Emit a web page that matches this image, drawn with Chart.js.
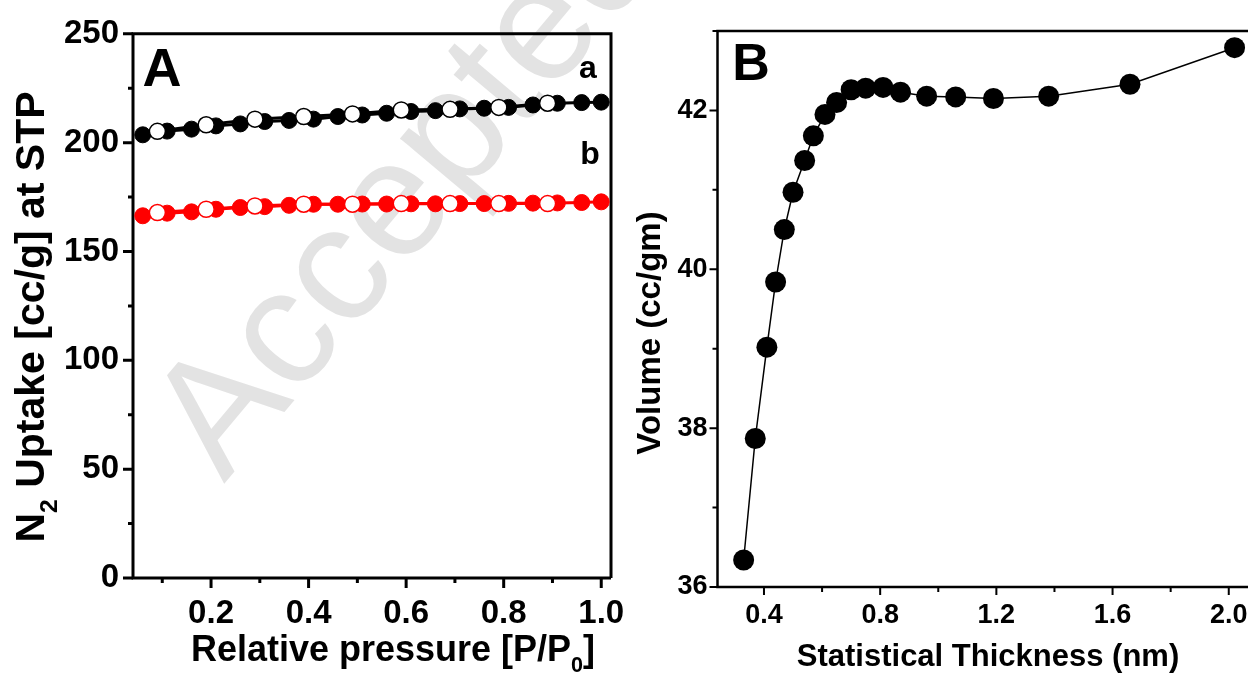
<!DOCTYPE html>
<html>
<head>
<meta charset="utf-8">
<script src="https://cdn.jsdelivr.net/npm/chart.js@4.4.0/dist/chart.umd.min.js"></script>
<style>
  html, body { margin: 0; padding: 0; background: #fff; overflow: hidden; }
  #boxA { position: absolute; left: 0; top: 0; }
  #boxB { position: absolute; left: 620px; top: 0; }
</style>
</head>
<body>
<canvas id="boxA" width="700" height="675"></canvas>
<canvas id="boxB" width="640" height="675"></canvas>
<script>
// ---- panel A : N2 isotherms (filled = adsorption, open = desorption)
const relPressureAds = [0.06, 0.11, 0.16, 0.21, 0.26, 0.31, 0.36, 0.41, 0.46, 0.51, 0.56, 0.61, 0.66, 0.71, 0.76, 0.81, 0.86, 0.91, 0.96, 1.00];
const uptakeAdsA = [203.6, 205.3, 206.2, 207.7, 208.6, 209.7, 210.2, 210.8, 212.0, 212.7, 213.5, 214.3, 214.7, 215.5, 215.8, 216.2, 217.3, 218.1, 218.4, 218.6];
const uptakeAdsB = [166.4, 167.6, 168.2, 169.4, 170.2, 170.6, 171.2, 171.7, 171.7, 171.8, 171.8, 171.9, 171.9, 172.0, 172.0, 172.1, 172.2, 172.3, 172.5, 172.8];
const relPressureDes = [0.09, 0.19, 0.29, 0.39, 0.49, 0.59, 0.69, 0.79, 0.89];
const uptakeDesA = [205.2, 208.2, 210.8, 212.0, 213.2, 215.0, 215.3, 216.2, 218.1];
const uptakeDesB = [167.9, 169.4, 170.9, 171.7, 171.7, 172.0, 172.0, 172.0, 172.0];

// ---- panel B : t-plot
const thickness = [0.33, 0.37, 0.41, 0.44, 0.47, 0.50, 0.54, 0.57, 0.61, 0.65, 0.70, 0.75, 0.81, 0.87, 0.96, 1.06, 1.19, 1.38, 1.66, 2.02];
const volume = [36.34, 37.87, 39.02, 39.84, 40.50, 40.97, 41.37, 41.68, 41.95, 42.10, 42.26, 42.28, 42.29, 42.23, 42.18, 42.17, 42.15, 42.18, 42.33, 42.79];

// ticks
const xTicksA = [0.2, 0.4, 0.6, 0.8, 1.0];
const xMinorA = [0.1, 0.3, 0.5, 0.7, 0.9];
const yTicksA = [0, 50, 100, 150, 200, 250];
const yMinorA = [25, 75, 125, 175, 225];
const xTicksB = [0.4, 0.8, 1.2, 1.6, 2.0];
const xMinorB = [0.6, 1.0, 1.4, 1.8];
const yTicksB = [36, 38, 40, 42];
const yMinorB = [37, 39, 41, 43];

const FONT = '"Liberation Sans", Arial, sans-serif';

function pts(xs, ys) {
  return xs.map((x, i) => ({ x: x, y: ys[i] }));
}

// draws text made of parts, some of them subscripts, centred on (x, y)
function drawParts(ctx, parts, x, y, size, angle) {
  ctx.save();
  ctx.translate(x, y);
  ctx.rotate(angle * Math.PI / 180);
  ctx.fillStyle = '#000';
  ctx.textBaseline = 'middle';
  ctx.textAlign = 'left';
  let w = 0;
  parts.forEach(p => {
    ctx.font = 'bold ' + (p.sub ? size * 0.6 : size) + 'px ' + FONT;
    w += ctx.measureText(p.t).width;
  });
  let cx = -w / 2;
  parts.forEach(p => {
    ctx.font = 'bold ' + (p.sub ? size * 0.6 : size) + 'px ' + FONT;
    ctx.fillText(p.t, cx, p.sub ? size * 0.42 : 0);
    cx += ctx.measureText(p.t).width;
  });
  ctx.restore();
}

const decor = {
  id: 'decor',
  beforeDraw(chart, args, o) {
    if (!o.watermark) return;
    const ctx = chart.ctx;
    const w = o.watermark;
    ctx.save();
    ctx.translate(w.x, w.y);
    ctx.rotate(w.angle * Math.PI / 180);
    ctx.font = w.size + 'px ' + FONT;
    ctx.fillStyle = '#e3e3e3';
    ctx.fillText('Accepted', 0, 0);
    ctx.restore();
  },
  beforeDatasetsDraw(chart, args, o) {
    const ctx = chart.ctx;
    const a = chart.chartArea;
    const sx = chart.scales.x, sy = chart.scales.y;
    ctx.save();
    ctx.strokeStyle = '#000';
    ctx.lineWidth = o.frameWidth;
    ctx.beginPath();
    ctx.moveTo(a.right, a.bottom);
    ctx.lineTo(a.left, a.bottom);
    ctx.lineTo(a.left, a.top);
    ctx.lineTo(a.right, a.top);
    if (o.rightEdge) ctx.lineTo(a.right, a.bottom);
    ctx.stroke();
    ctx.lineWidth = o.tickWidth;
    ctx.beginPath();
    const tick = (scale, vals, len) => vals.forEach(v => {
      const p = scale.getPixelForValue(v);
      if (scale.isHorizontal()) { ctx.moveTo(p, a.bottom); ctx.lineTo(p, a.bottom + len); }
      else { ctx.moveTo(a.left, p); ctx.lineTo(a.left - len, p); }
    });
    tick(sx, o.xMajor, o.major); tick(sx, o.xMinor, o.minor);
    tick(sy, o.yMajor, o.major); tick(sy, o.yMinor, o.minor);
    ctx.stroke();
    ctx.restore();
  },
  afterDraw(chart, args, o) {
    const ctx = chart.ctx;
    o.texts.forEach(t => drawParts(ctx, t.parts, t.x, t.y, t.size, t.angle || 0));
  }
};

function fixedTicks(list) {
  return scale => { scale.ticks = list.map(v => ({ value: v })); };
}

function axis(min, max, list, fmt, size, pad, fit) {
  return {
    type: 'linear', min: min, max: max,
    afterBuildTicks: fixedTicks(list),
    afterFit: fit,
    grid: { display: false, drawTicks: false },
    border: { display: false },
    ticks: { color: '#000', padding: pad, font: { family: FONT, size: size, weight: 'bold' }, callback: fmt }
  };
}

const commonOpts = {
  responsive: false,
  animation: false,
  devicePixelRatio: 1,
  events: []
};

// ---------- chart A
new Chart(document.getElementById('boxA'), {
  type: 'scatter',
  data: {
    datasets: [
      { data: pts(relPressureDes, uptakeDesA), showLine: true, borderColor: '#000', borderWidth: 3,
        pointRadius: 8, pointBackgroundColor: '#fff', pointBorderColor: '#000', pointBorderWidth: 1.5 },
      { data: pts(relPressureDes, uptakeDesB), showLine: true, borderColor: '#ff0000', borderWidth: 3,
        pointRadius: 8, pointBackgroundColor: '#fff', pointBorderColor: '#ff0000', pointBorderWidth: 1.5 },
      { data: pts(relPressureAds, uptakeAdsA), showLine: true, borderColor: '#000', borderWidth: 3,
        pointRadius: 8, pointBackgroundColor: '#000', pointBorderColor: '#000', pointBorderWidth: 1 },
      { data: pts(relPressureAds, uptakeAdsB), showLine: true, borderColor: '#ff0000', borderWidth: 3,
        pointRadius: 8, pointBackgroundColor: '#ff0000', pointBorderColor: '#ff0000', pointBorderWidth: 1 }
    ]
  },
  options: Object.assign({}, commonOpts, {
    clip: false,
    layout: { autoPadding: false, padding: { left: 0, top: 32, right: 89, bottom: 0 } },
    scales: {
      x: axis(0.04, 1.02, xTicksA, v => v.toFixed(1), 33, 16, s => { s.height = 97; }),
      y: axis(0, 250, yTicksA, v => v, 33, 14, s => { s.width = 133; })
    },
    plugins: {
      legend: { display: false },
      tooltip: { enabled: false },
      decor: {
        watermark: { x: 224, y: 484, angle: -50, size: 165 },
        frameWidth: 3, tickWidth: 3, major: 10, minor: 5, rightEdge: true,
        xMajor: xTicksA, xMinor: xMinorA, yMajor: yTicksA, yMinor: yMinorA,
        texts: [
          { parts: [{ t: 'Relative pressure [P/P' }, { t: '0', sub: true }, { t: ']' }], x: 393, y: 651, size: 36 },
          { parts: [{ t: 'N' }, { t: '2', sub: true }, { t: ' Uptake [cc/g] at STP' }], x: 33, y: 317, size: 41, angle: -90 },
          { parts: [{ t: 'A' }], x: 162, y: 71, size: 54 },
          { parts: [{ t: 'a' }], x: 588, y: 69, size: 32 },
          { parts: [{ t: 'b' }], x: 590, y: 155, size: 32 }
        ]
      }
    }
  }),
  plugins: [decor]
});

// ---------- chart B
new Chart(document.getElementById('boxB'), {
  type: 'scatter',
  data: {
    datasets: [
      { data: pts(thickness, volume), showLine: true, borderColor: '#000', borderWidth: 1.5,
        pointRadius: 10.5, pointBackgroundColor: '#000', pointBorderColor: '#000', pointBorderWidth: 0 }
    ]
  },
  options: Object.assign({}, commonOpts, {
    clip: false,
    layout: { autoPadding: false, padding: { left: 0, top: 31, right: 8, bottom: 0 } },
    scales: {
      x: axis(0.24, 2.08, xTicksB, v => v.toFixed(1), 27, 12, s => { s.height = 88; }),
      y: axis(36, 43, yTicksB, v => v, 27, 10, s => { s.width = 97.5; })
    },
    plugins: {
      legend: { display: false },
      tooltip: { enabled: false },
      decor: {
        frameWidth: 2.5, tickWidth: 2, major: 8, minor: 5, rightEdge: false,
        xMajor: xTicksB, xMinor: xMinorB, yMajor: yTicksB, yMinor: yMinorB,
        texts: [
          { parts: [{ t: 'Statistical Thickness (nm)' }], x: 368, y: 657, size: 31 },
          { parts: [{ t: 'Volume (cc/gm)' }], x: 31, y: 333, size: 33, angle: -90 },
          { parts: [{ t: 'B' }], x: 131, y: 66, size: 52 }
        ]
      }
    }
  }),
  plugins: [decor]
});
</script>
</body>
</html>
